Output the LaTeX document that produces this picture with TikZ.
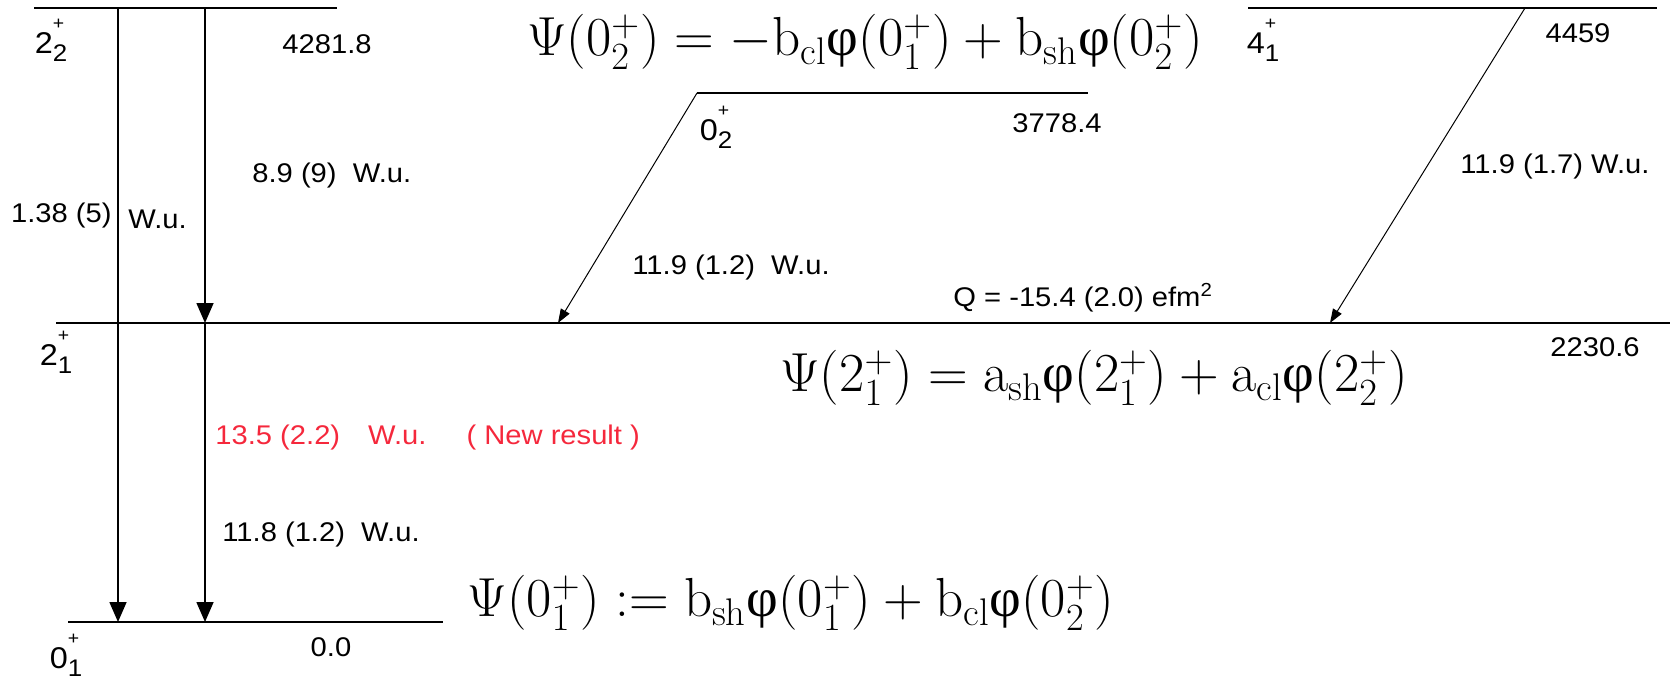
\documentclass[tikz,border=0pt]{standalone}
\usepackage{fix-cm}
\usepackage{fontspec}
\newfontfamily\arial{Liberation Sans}[FakeStretch=1.08]
\newfontfamily\serifphi{Liberation Serif}
\usetikzlibrary{arrows.meta}
\definecolor{newred}{RGB}{245,40,60}
% spin-parity label: J, plus sign above, index below
\newcommand{\jp}[2]{{\fontsize{15}{18}\selectfont #1}\rlap{\raisebox{12pt}{\fontsize{9}{10}\selectfont +}}\raisebox{-4pt}{\fontsize{12}{14}\selectfont #2}}
\newcommand{\ph}{\mbox{\serifphi φ}}

\begin{document}
\begin{tikzpicture}[x=0.5pt,y=-0.5pt,>={Triangle[length=10pt,width=8.5pt]}]
  \tikzstyle{lvl}=[line width=1pt]
  \tikzstyle{tr}=[->, line width=0.8pt]
  \tikzstyle{slant}=[-{Triangle[length=7pt,width=5pt]}, line width=0.5pt]
  \tikzstyle{lab}=[font=\arial\fontsize{13.5}{16}\selectfont, inner sep=0pt]
  \tikzstyle{eqn}=[font=\fontsize{27.5}{32}\selectfont, inner sep=0pt]

  \useasboundingbox (0,0) rectangle (1677,681);

  % levels
  \foreach \xa/\xb/\yy in {34/337/8, 56/1670/323, 68/443/622, 697/1088/93, 1248/1657/8}
    \draw[lvl] (\xa,\yy) -- (\xb,\yy);

  \node[inner sep=0pt] (s22) at (51,40) {\arial\jp{2}{2}};
  \node[inner sep=0pt] (s21) at (56,352) {\arial\jp{2}{1}};
  \node[inner sep=0pt] (s01) at (66,655) {\arial\jp{0}{1}};
  \node[inner sep=0pt] (s02) at (716,127) {\arial\jp{0}{2}};
  \node[inner sep=0pt] (s41) at (1263,40) {\arial\jp{4}{1}};

  \node[lab] (e22) at (327,44) {4281.8};
  \node[lab] (e21) at (1595,347) {2230.6};
  \node[lab] (e01) at (331,647) {0.0};
  \node[lab] (e02) at (1057,123) {3778.4};
  \node[lab] (e41) at (1578,33) {4459};

  % transitions
  \coordinate (t22) at (118,8);
  \coordinate (t01) at (118,622);
  \coordinate (u22) at (205,8);
  \coordinate (u21) at (205,323);
  \coordinate (u01) at (205,622);
  \coordinate (a02) at (697,93);
  \coordinate (b21) at (558,323);
  \coordinate (a41) at (1525,8);
  \coordinate (c21) at (1330,323);

  \draw[tr] (t22) -- (t01);
  \draw[tr] (u22) -- (u21);
  \draw[tr] (u21) -- (u01);
  \draw[slant] (a02) -- (b21);
  \draw[slant] (a41) -- (c21);

  \node[lab, anchor=west] (w1) at (252,176) {8.9 (9)\ \ W.u.};
  \node[lab, anchor=east] (w2) at (112,216) {1.38 (5)};
  \node[lab, anchor=west] (w2u) at (128,219) {W.u.};
  \node[lab, anchor=west, text=newred] (w3) at (215,438) {13.5 (2.2)\hspace{14pt}W.u.\hspace{20pt}( New result )};
  \node[lab, anchor=west] (w4) at (222,535) {11.8 (1.2)\ \ W.u.};
  \node[lab, anchor=west] (w5) at (632,268) {11.9 (1.2)\ \ W.u.};
  \node[lab, anchor=west] (w6) at (1460,167) {11.9 (1.7) W.u.};
  \node[lab, anchor=west] (qm) at (953,298) {Q = -15.4 (2.0)\ efm\textsuperscript{2}};

  % wave functions
  \node[eqn] (psi02) at (865,42) {$\Psi(0_2^+) = -\mathrm{b}_{\mathrm{cl}}\ph(0_1^+) + \mathrm{b}_{\mathrm{sh}}\ph(0_2^+)$};
  \node[eqn] (psi21) at (1094,378) {$\Psi(2_1^+) = \mathrm{a}_{\mathrm{sh}}\ph(2_1^+) + \mathrm{a}_{\mathrm{cl}}\ph(2_2^+)$};
  \node[eqn] (psi01) at (791,603) {$\Psi(0_1^+) \mathrel{{:}{=}} \mathrm{b}_{\mathrm{sh}}\ph(0_1^+) + \mathrm{b}_{\mathrm{cl}}\ph(0_2^+)$};
\end{tikzpicture}
\end{document}
